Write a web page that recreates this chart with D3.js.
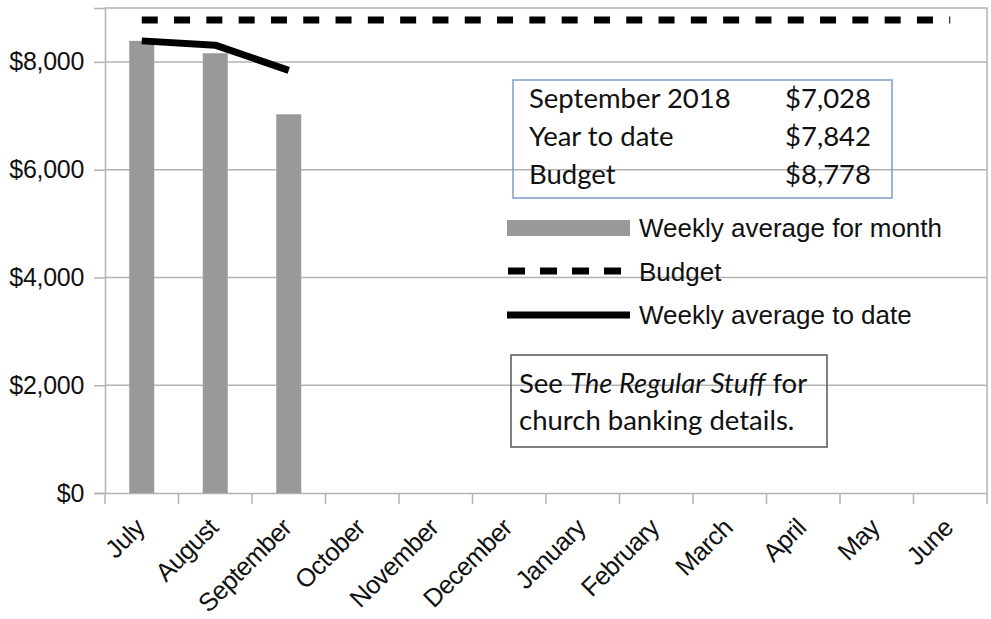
<!DOCTYPE html>
<html>
<head>
<meta charset="utf-8">
<script src="https://cdn.jsdelivr.net/npm/d3@7"></script>
<style>
body { margin: 0; background: #fff; }
svg { display: block; }
</style>
</head>
<body>
<div id="chart"></div>
<script>
"use strict"
var width = 991,
	height = 619;

// data
var months = ["July","August","September","October","November","December","January","February","March","April","May","June"];
var monthlyAvg = [8390, 8160, 7028];
var ytdAvg = [8390, 8310, 7842];
var budget = 8778;
var yTicks = [0, 2000, 4000, 6000, 8000];
var summaryRows = [["September 2018","$7,028"],["Year to date","$7,842"],["Budget","$8,778"]];
var legendItems = ["Weekly average for month","Budget","Weekly average to date"];

var margin = {left:105, right:4, top:8, bottom:126};
var gridCol = "#b3b3b3";

var svg = d3.select("#chart").append("svg")
	.attr("width",width)
	.attr("height",height);

var x = d3.scaleBand().domain(months).range([margin.left,width-margin.right]).paddingInner(0.66).paddingOuter(0.33);
var xb = d3.scaleBand().domain(months).range([margin.left,width-margin.right]);
var y = d3.scaleLinear().domain([0,9000]).range([height-margin.bottom,margin.top]);

// gridlines
svg.append("g").selectAll("line").data(yTicks.slice(1)).enter().append("line")
	.attr("x1",margin.left).attr("x2",width-margin.right)
	.attr("y1",d=>y(d)).attr("y2",d=>y(d))
	.style("stroke",gridCol).style("stroke-width",1.5);

// border top/right
svg.append("path")
	.attr("d","M"+margin.left+","+y(9000)+"H"+(width-margin.right)+"V"+y(0))
	.style("fill","none").style("stroke",gridCol).style("stroke-width",1.5);

// y axis
var yAxis = svg.append("g").attr("transform","translate("+margin.left+",0)")
	.call(d3.axisLeft(y).tickValues(yTicks).tickSize(11).tickPadding(10).tickFormat(d=>"$"+d3.format(",")(d)));
yAxis.select(".domain").style("stroke",gridCol).style("stroke-width",1.5);
yAxis.selectAll(".tick line").style("stroke",gridCol).style("stroke-width",1.5);
yAxis.selectAll("text").style("font-family","Liberation Sans").style("font-size","25px").style("fill","#111").style("letter-spacing","-0.3px");

// x axis
var xAxis = svg.append("g").attr("transform","translate(0,"+y(0)+")")
	.call(d3.axisBottom(xb).tickSize(0).tickFormat(""));
xAxis.select(".domain").style("stroke",gridCol).style("stroke-width",1.5);
svg.append("g").selectAll("line").data(months.concat(["end"])).enter().append("line")
	.attr("x1",(d,i)=>margin.left+i*xb.step()).attr("x2",(d,i)=>margin.left+i*xb.step())
	.attr("y1",y(0)).attr("y2",y(0)+11)
	.style("stroke",gridCol).style("stroke-width",1.5);
svg.append("g").selectAll("text").data(months).enter().append("text")
	.attr("transform",d=>"translate("+(xb(d)+xb.bandwidth()/2-2)+","+(y(0)+30)+") rotate(-45)")
	.attr("text-anchor","end")
	.attr("dy","0.35em")
	.style("font-family","Liberation Sans").style("font-size","25.5px").style("fill","#111").style("letter-spacing","-0.6px")
	.text(d=>d);

// bars
svg.append("g").selectAll("rect").data(monthlyAvg).enter().append("rect")
	.attr("x",(d,i)=>x(months[i]))
	.attr("y",d=>y(d))
	.attr("width",x.bandwidth())
	.attr("height",d=>y(0)-y(d))
	.style("fill","#999999");

var cx = d=>xb(d)+xb.bandwidth()/2;

// budget line
svg.append("line")
	.attr("x1",cx(months[0])).attr("x2",cx(months[months.length-1]))
	.attr("y1",y(budget)).attr("y2",y(budget))
	.style("stroke","#000").style("stroke-width",7).style("stroke-dasharray","16,16.3");

// ytd line
svg.append("path").datum(ytdAvg)
	.attr("d",d3.line().x((d,i)=>cx(months[i])).y(d=>y(d)))
	.style("fill","none").style("stroke","#000").style("stroke-width",7).style("stroke-linejoin","round");

// summary box
svg.append("rect").attr("x",513).attr("y",80).attr("width",379).attr("height",118)
	.style("fill","none").style("stroke","#7d9cc9").style("stroke-width",1.5);
var rows = svg.append("g").selectAll("g").data(summaryRows).enter().append("g")
	.attr("transform",(d,i)=>"translate(0,"+(108+i*38)+")");
rows.append("text").attr("x",529).text(d=>d[0]);
rows.append("text").attr("x",871).attr("text-anchor","end").text(d=>d[1]);
rows.selectAll("text").style("font-family","Lato").style("font-size","27.5px").style("fill","#111");

// legend
var lg = svg.append("g");
lg.append("rect").attr("x",507).attr("y",220).attr("width",123).attr("height",16).style("fill","#999999");
lg.append("line").attr("x1",508).attr("x2",628).attr("y1",271).attr("y2",271)
	.style("stroke","#000").style("stroke-width",7).style("stroke-dasharray","17,15");
lg.append("line").attr("x1",507).attr("x2",630).attr("y1",315).attr("y2",315)
	.style("stroke","#000").style("stroke-width",7);
lg.selectAll("text").data(legendItems).enter().append("text")
	.attr("x",639).attr("y",(d,i)=>237+i*43.5)
	.style("font-family","Liberation Sans").style("font-size","26px").style("fill","#111")
	.text(d=>d);

// note box
svg.append("rect").attr("x",511).attr("y",355).attr("width",316).attr("height",92)
	.style("fill","none").style("stroke","#555").style("stroke-width",1.5);
var note = svg.append("g").style("font-family","Lato").style("font-size","27.5px").style("fill","#111");
var l1 = note.append("text").attr("x",519).attr("y",393);
l1.append("tspan").text("See ");
l1.append("tspan").style("font-style","italic").text("The Regular Stuff");
l1.append("tspan").text(" for");
note.append("text").attr("x",519).attr("y",430).text("church banking details.");
</script>
</body>
</html>
